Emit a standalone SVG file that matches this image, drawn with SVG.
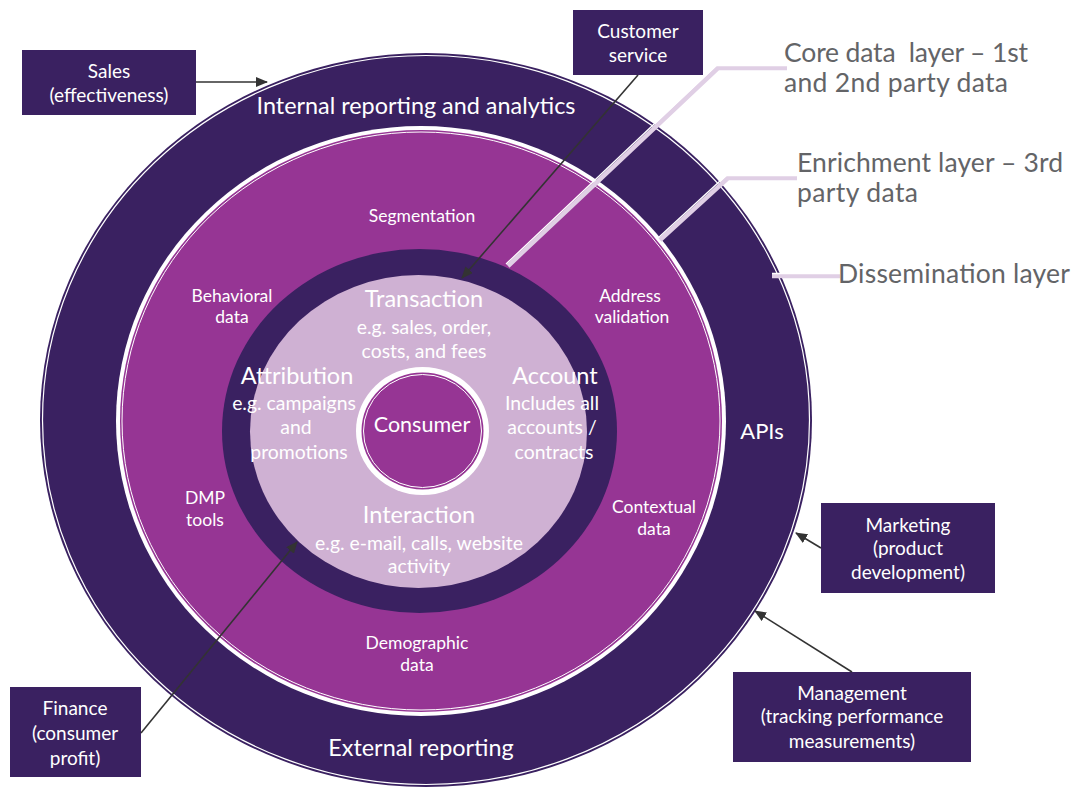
<svg xmlns="http://www.w3.org/2000/svg" width="1085" height="787" viewBox="0 0 1085 787">
<style>
text{font-family:Lato,"Open Sans","Liberation Sans",sans-serif;fill:#fff;text-anchor:middle}
.box{fill:#3a2161}
.bt{font-size:19px}
.ring{font-size:23.4px}
.mg{font-size:17.5px}
.lv{font-size:19.4px}
.lvh{font-size:23.5px}
.gray{fill:#636467;font-size:26.5px;text-anchor:start;white-space:pre}
.arr{stroke:#333;stroke-width:1.6;fill:none;marker-end:url(#ah)}
.cl{fill:none;stroke:#e0cfe5;stroke-width:4.5}
.cw{fill:none;stroke:#fff;stroke-width:1.3}
</style>
<defs>
<marker id="ah" markerUnits="userSpaceOnUse" markerWidth="12" markerHeight="10" refX="11" refY="5" orient="auto">
<path d="M0,0 L12,5 L0,10 z" fill="#333"/>
</marker>
</defs>
<rect width="1085" height="787" fill="#fff"/>
<g id="rings">
<ellipse cx="426" cy="420" rx="386" ry="367" fill="#3a2161"/>
<ellipse cx="426" cy="420" rx="383.5" ry="364.5" fill="none" stroke="#fff" stroke-width="1.2"/>
<ellipse cx="421" cy="421" rx="305" ry="295" fill="#fff"/>
<ellipse cx="421" cy="421" rx="301" ry="291" fill="#963594"/>
<ellipse cx="421" cy="421" rx="299" ry="289" fill="none" stroke="#fff" stroke-width="1"/>
<ellipse cx="419.5" cy="431" rx="197.5" ry="182" fill="#3a2161"/>
<ellipse cx="418.5" cy="431.5" rx="168.5" ry="156.5" fill="#cfb1d3"/>
<ellipse cx="422.5" cy="431" rx="66.5" ry="64" fill="#fff"/>
<ellipse cx="422.5" cy="431" rx="61" ry="58.5" fill="#963594"/>
<ellipse cx="422.5" cy="431" rx="59" ry="56.5" fill="none" stroke="#fff" stroke-width="1"/>
</g>
<g id="callouts">
<polyline class="cl" points="787,68 718,68 508,266"/>
<polyline class="cw" points="787,65.5 716,65.5 506,264"/>
<polyline class="cl" points="797,178 728,178 660,240"/>
<polyline class="cw" points="797,175.5 726,175.5 658,238"/>
<polyline class="cl" points="840,276 772,276"/>
<polyline class="cw" points="840,273.5 772,273.5"/>
</g>
<g id="ring-labels">
<text class="ring" x="416" y="114">Internal reporting and analytics</text>
<text class="ring" x="421" y="756">External reporting</text>
<text class="ring" x="762" y="439" style="font-size:22px">APIs</text>
<text class="mg" x="422" y="222">Segmentation</text>
<text class="mg" x="232" y="302">Behavioral</text>
<text class="mg" x="232" y="323">data</text>
<text class="mg" x="630" y="302">Address</text>
<text class="mg" x="632" y="323">validation</text>
<text class="mg" x="205" y="504">DMP</text>
<text class="mg" x="205" y="526">tools</text>
<text class="mg" x="654" y="513">Contextual</text>
<text class="mg" x="654" y="535">data</text>
<text class="mg" x="417" y="649">Demographic</text>
<text class="mg" x="417" y="671">data</text>
</g>
<g id="core-labels">
<text class="lvh" x="424" y="307">Transaction</text>
<text class="lv" x="424" y="334">e.g. sales, order,</text>
<text class="lv" x="424" y="358">costs, and fees</text>
<text class="lvh" x="297" y="384">Attribution</text>
<text class="lv" x="294" y="410">e.g. campaigns</text>
<text class="lv" x="296" y="434">and</text>
<text class="lv" x="299" y="459">promotions</text>
<text class="lvh" x="555" y="384">Account</text>
<text class="lv" x="552" y="410">Includes all</text>
<text class="lv" x="552" y="434">accounts /</text>
<text class="lv" x="554" y="459">contracts</text>
<text class="lvh" x="419" y="523">Interaction</text>
<text class="lv" x="419" y="550">e.g. e-mail, calls, website</text>
<text class="lv" x="419" y="573">activity</text>
</g>
<g id="consumer"><text class="lvh" x="422" y="432" style="font-size:21.5px">Consumer</text></g>
<g id="layer-labels">
<text class="gray" x="784" y="62" textLength="244">Core data  layer – 1st</text>
<text class="gray" x="784" y="92" textLength="224">and 2nd party data</text>
<text class="gray" x="797" y="172" textLength="266">Enrichment layer – 3rd</text>
<text class="gray" x="797" y="202" textLength="121">party data</text>
<text class="gray" x="838" y="283" textLength="232">Dissemination layer</text>
</g>
<g id="sales"><rect class="box" x="22" y="50" width="174" height="65"/>
<text class="bt" x="109" y="78">Sales</text><text class="bt" x="109" y="102">(effectiveness)</text></g>
<g id="customer-service"><rect class="box" x="573" y="10" width="130" height="65"/>
<text class="bt" x="638" y="38">Customer</text><text class="bt" x="638" y="62">service</text></g>
<g id="finance"><rect class="box" x="10" y="687" width="131" height="90"/>
<text class="bt" x="75" y="715">Finance</text><text class="bt" x="75" y="740">(consumer</text><text class="bt" x="75" y="765">profit)</text></g>
<g id="marketing"><rect class="box" x="821" y="503" width="174" height="90"/>
<text class="bt" x="908" y="532">Marketing</text><text class="bt" x="908" y="555">(product</text><text class="bt" x="908" y="579">development)</text></g>
<g id="management"><rect class="box" x="733" y="672" width="238" height="90"/>
<text class="bt" x="852" y="700">Management</text><text class="bt" x="852" y="723">(tracking performance</text><text class="bt" x="852" y="748">measurements)</text></g>
<g id="connectors">
<line class="arr" x1="196" y1="82" x2="267" y2="82"/>
<line class="arr" x1="638" y1="75" x2="462" y2="278"/>
<line class="arr" x1="141" y1="733" x2="297" y2="542"/>
<line class="arr" x1="821" y1="548" x2="796" y2="533"/>
<line class="arr" x1="852" y1="672" x2="755" y2="611"/>
</g>
</svg>
